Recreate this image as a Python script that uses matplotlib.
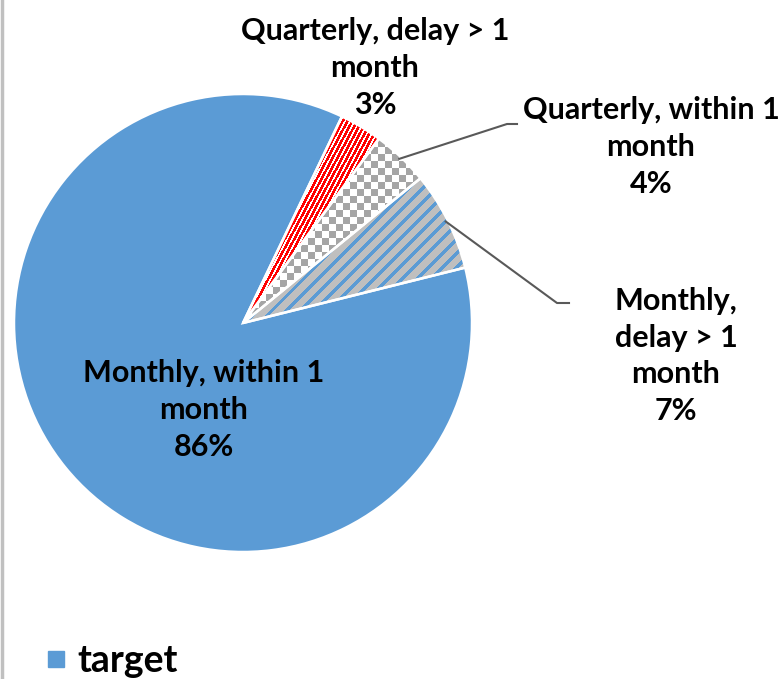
import numpy as np
import matplotlib.pyplot as plt
from matplotlib.lines import Line2D

# Data
labels = ["Monthly, within 1\nmonth", "Quarterly, delay > 1\nmonth",
          "Quarterly, within 1\nmonth", "Monthly,\ndelay > 1\nmonth"]
shares = [86, 3, 4, 7]
series_name = "target"

plt.rcParams['font.family'] = ['Lato', 'DejaVu Sans']

blue = '#5b9bd5'
W, H = 781, 679
fig = plt.figure(figsize=(W / 100, H / 100), dpi=100)
ax = fig.add_axes([0, 0, 1, 1])
cx, cy, R = 243, 356, 229

wedges, _ = ax.pie(shares, startangle=14, counterclock=False, center=(cx, cy),
                   radius=R, colors=[blue, 'white', 'white', '#bfbfbf'],
                   wedgeprops=dict(linewidth=0), frame=True)

# pattern fills (pixel grid over the whole axes)
yy, xx = np.mgrid[0:H, 0:W] + 0.5

def pattern(mask, fg, bg):
    img = np.zeros((H, W, 3))
    img[:] = bg
    img[mask] = fg
    return img

a = np.deg2rad(62)
u = -xx * np.sin(a) + yy * np.cos(a)
red_img = pattern((u % 4.2) < 2.6, (1, 0, 0), (1, 1, 1))
checker = ((xx // 7).astype(int) + (yy // 7).astype(int)) % 2 == 0
check_img = pattern(checker, (0.65, 0.65, 0.65), (1, 1, 1))
v = (xx - yy) / np.sqrt(2)
stripe_img = pattern((v % 10) < 3.5, (0.357, 0.608, 0.835), (0.75, 0.75, 0.75))

for w, img in zip(wedges[1:], [red_img, check_img, stripe_img]):
    im = ax.imshow(img, extent=(0, W, 0, H), origin='lower', interpolation='nearest', zorder=1.5)
    im.set_clip_path(w)

# white separators on top
ax.pie(shares, startangle=14, counterclock=False, center=(cx, cy), radius=R,
       colors=['none'] * 4, wedgeprops=dict(edgecolor='white', linewidth=1.8), frame=True)
for p in ax.patches[len(shares):]:
    p.set_zorder(2)

ax.set_xlim(0, W)
ax.set_ylim(0, H)
ax.set_aspect('equal')
ax.axis('off')

fs = 22
ls = 1.37
texts = [l + "\n%d%%" % s for l, s in zip(labels, shares)]
kw = dict(ha='center', va='center', fontsize=fs, fontweight='bold', linespacing=ls, color='black')
ax.text(204, H - 410, texts[0], **kw)
ax.text(375, H - 68, texts[1], **kw)
ax.text(651, H - 147, texts[2], **kw)
ax.text(676, H - 356, texts[3], **kw)

# leader lines
for w, (x1, y1, x2) in zip(wedges[2:], [(507, H - 124, 517), (557, H - 303, 569)]):
    th = np.deg2rad((w.theta1 + w.theta2) / 2)
    x0 = cx + 0.99 * R * np.cos(th)
    y0 = cy + 0.99 * R * np.sin(th)
    ax.plot([x0, x1, x2], [y0, y1, y1], color='#595959', lw=1.5, zorder=3)

# legend
handle = Line2D([], [], marker='s', ls='', color=blue, markersize=12)
fig.legend([handle], [series_name], loc='center left', bbox_to_anchor=(0.053, (H - 661) / H),
           frameon=False, prop=dict(size=27, weight='bold'), handletextpad=0.15,
           handlelength=0.8, borderpad=0, borderaxespad=0)

fig.add_artist(Line2D([0.002, 0.002], [0, 1], transform=fig.transFigure, color='#c0c0c0', lw=2.5))

fig.savefig('out.png', dpi=100)
